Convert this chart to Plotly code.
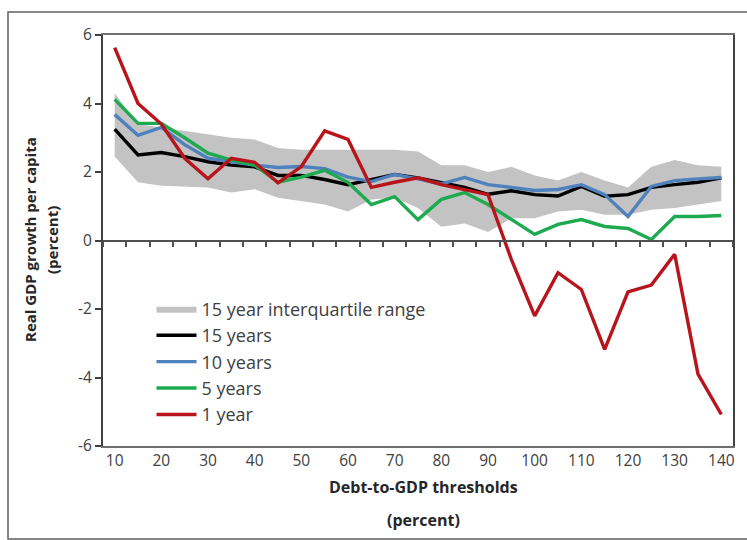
import plotly.graph_objects as go

thresholds = list(range(10, 145, 5))
iqr_upper = [4.3, 3.4, 3.3, 3.2, 3.1, 3.0, 2.95, 2.7, 2.65, 2.65, 2.65, 2.65, 2.65, 2.6,
             2.2, 2.2, 2.0, 2.15, 1.9, 1.75, 2.0, 1.75, 1.55, 2.15, 2.35, 2.2, 2.15]
iqr_lower = [2.45, 1.7, 1.6, 1.58, 1.55, 1.4, 1.5, 1.25, 1.15, 1.05, 0.85, 1.2, 1.25, 0.95,
             0.4, 0.5, 0.25, 0.65, 0.65, 0.85, 0.9, 0.75, 0.75, 0.9, 0.95, 1.05, 1.15]
years15 = [3.25, 2.5, 2.57, 2.45, 2.3, 2.2, 2.15, 1.9, 1.9, 1.78, 1.63, 1.78, 1.93, 1.83,
           1.7, 1.55, 1.35, 1.45, 1.34, 1.3, 1.58, 1.29, 1.34, 1.55, 1.63, 1.7, 1.83]
years10 = [3.68, 3.07, 3.3, 2.8, 2.4, 2.3, 2.2, 2.13, 2.16, 2.1, 1.85, 1.72, 1.93, 1.8,
           1.65, 1.84, 1.63, 1.55, 1.46, 1.49, 1.63, 1.34, 0.7, 1.58, 1.75, 1.8, 1.84]
years5 = [4.12, 3.42, 3.42, 3.0, 2.55, 2.35, 2.2, 1.7, 1.85, 2.05, 1.7, 1.05, 1.28, 0.61,
          1.2, 1.4, 1.05, 0.61, 0.18, 0.47, 0.61, 0.41, 0.35, 0.03, 0.7, 0.7, 0.73]
year1 = [5.63, 4.0, 3.4, 2.4, 1.8, 2.4, 2.28, 1.68, 2.16, 3.2, 2.95, 1.55, 1.7, 1.83,
         1.63, 1.49, 1.34, -0.55, -2.2, -0.94, -1.43, -3.18, -1.5, -1.3, -0.4, -3.9, -5.08]

x_ticks = list(range(10, 150, 10))
y_ticks = [-6, -4, -2, 0, 2, 4, 6]
y_tick_text = ["-6", "-4", "-2", "0", "2", "4", "6"]
minor_ticks = [t + 2.5 for t in range(5, 145, 5)]

FONT = "Open Sans"
TXT = "#404040"
TITLE = "#262626"

fig = go.Figure()
fig.add_trace(go.Scatter(
    x=thresholds + thresholds[::-1], y=iqr_upper + iqr_lower[::-1],
    fill="toself", fillcolor="#C3C3C3", mode="lines", line=dict(width=0, color="#C3C3C3"),
    name="15 year interquartile range", legendgroup="a", hoverinfo="skip"))
series = [("15 years", years15, "#000000"), ("10 years", years10, "#4F81BD"),
          ("5 years", years5, "#1DAA50"), ("1 year", year1, "#B8141B")]
for i, (nm, vals, col) in enumerate(series):
    fig.add_trace(go.Scatter(x=thresholds, y=vals, mode="lines", name=nm,
                             line=dict(color=col, width=3.4), legendgroup=str(i)))
# helper trace for the zero-line axis
fig.add_trace(go.Scatter(x=[thresholds[0]], y=[0], xaxis="x2", mode="markers",
                         marker=dict(opacity=0), showlegend=False, hoverinfo="skip"))

def px_x(p):
    return (p - 103) / 630

def px_y(p):
    return (446 - p) / 411

fig.update_layout(
    width=747, height=540,
    margin=dict(l=103, r=14, t=35, b=94),
    paper_bgcolor="white", plot_bgcolor="white",
    font=dict(family=FONT, size=15, color=TXT),
    showlegend=True,
    legend=dict(x=0.077, y=0.378, xanchor="left", yanchor="top",
                font=dict(family=FONT, size=18, color=TXT),
                bgcolor="rgba(0,0,0,0)", traceorder="grouped", tracegroupgap=0,
                itemwidth=40),
    xaxis=dict(range=[7.5, 142.5], tickmode="array", tickvals=x_ticks,
               ticktext=[str(t) for t in x_ticks], ticks="", showgrid=False,
               zeroline=False, showline=True, linecolor="#707070", linewidth=1.5,
               mirror=True, tickfont=dict(size=15.5, color=TXT)),
    xaxis2=dict(range=[7.5, 142.5], overlaying="x", anchor="free", position=0.5,
                showline=True, linecolor="#505050", linewidth=2, ticks="outside",
                ticklen=5, tickwidth=1.5, tickcolor="#505050", tickmode="array",
                tickvals=minor_ticks, showticklabels=False, showgrid=False, zeroline=False),
    yaxis=dict(range=[-6, 6], tickmode="array", tickvals=y_ticks, ticktext=y_tick_text,
               ticks="outside", ticklen=6, tickwidth=1.5, tickcolor="#404040",
               showgrid=False, zeroline=False, showline=True, linecolor="#404040",
               linewidth=2, mirror=True, tickfont=dict(size=15.5, color=TXT)),
    annotations=[
        dict(text="<b>Debt-to-GDP thresholds</b>", xref="paper", yref="paper",
             x=px_x(423), y=px_y(487), showarrow=False, xanchor="center", yanchor="middle",
             font=dict(size=16, color=TITLE)),
        dict(text="<b>(percent)</b>", xref="paper", yref="paper",
             x=px_x(423), y=px_y(520), showarrow=False, xanchor="center", yanchor="middle",
             font=dict(size=16, color=TITLE)),
        dict(text="<b>Real GDP growth per capita</b>", xref="paper", yref="paper",
             x=px_x(30), y=px_y(240), showarrow=False, textangle=-90,
             xanchor="center", yanchor="middle", font=dict(size=15, color=TITLE)),
        dict(text="<b>(percent)</b>", xref="paper", yref="paper",
             x=px_x(52), y=px_y(240), showarrow=False, textangle=-90,
             xanchor="center", yanchor="middle", font=dict(size=15, color=TITLE)),
    ],
    shapes=[dict(type="rect", xref="paper", yref="paper",
                 x0=px_x(8), x1=px_x(760), y0=px_y(539), y1=px_y(12),
                 line=dict(color="#606060", width=1.5), layer="below")],
)

fig.write_html("out.html", config={"displayModeBar": False},
               post_script="document.body.style.margin='0';")
